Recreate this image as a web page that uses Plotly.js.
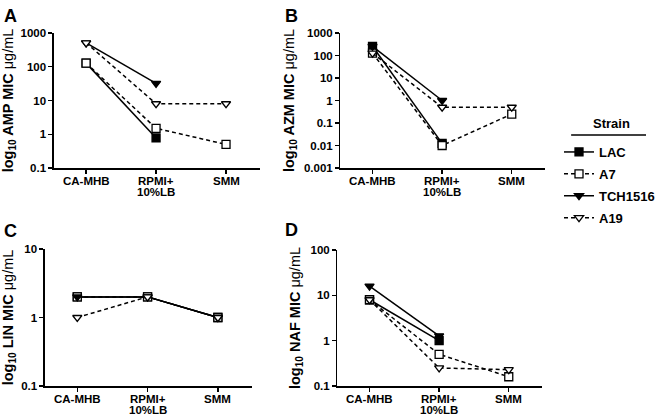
<!DOCTYPE html>
<html>
<head>
<meta charset="utf-8">
<script src="https://cdn.plot.ly/plotly-3.0.1.min.js"></script>
<style>html,body{margin:0;padding:0;background:#fff;}#chart{width:660px;height:415px;}</style>
</head>
<body>
<div id="chart"></div>
<script>
// Categories (media)
const media = ['CA-MHB', 'RPMI+<br>10%LB', 'SMM'];
const strains = ['LAC', 'A7', 'TCH1516', 'A19'];

// Panel A: AMP MIC (µg/mL)
const ampLAC = [128, 0.78, null];
const ampA7 = [128, 1.5, 0.5];
const ampTCH1516 = [512, 32, null];
const ampA19 = [512, 8, 8];

// Panel B: AZM MIC (µg/mL)
const azmLAC = [256, 0.0125, null];
const azmA7 = [128, 0.01, 0.25];
const azmTCH1516 = [256, 1, null];
const azmA19 = [128, 0.5, 0.5];

// Panel C: LIN MIC (µg/mL)
const linLAC = [2, 2, 1];
const linA7 = [2, 2, 1];
const linTCH1516 = [2, 2, 1];
const linA19 = [1, 2, 1];

// Panel D: NAF MIC (µg/mL)
const nafLAC = [8, 1, null];
const nafA7 = [8, 0.5, 0.16];
const nafTCH1516 = [16, 1.28, null];
const nafA19 = [8, 0.25, 0.23];

// Tick labels
const ticksA = [0.1, 1, 10, 100, 1000];
const ticksB = [0.001, 0.01, 0.1, 1, 10, 100, 1000];
const ticksC = [0.1, 1, 10];
const ticksD = [0.1, 1, 10, 100];

const styles = {
  LAC: {dash: 'solid', symbol: 'square', fill: '#000'},
  A7: {dash: '4px,3px', symbol: 'square', fill: '#fff'},
  TCH1516: {dash: 'solid', symbol: 'triangle-down', fill: '#000'},
  A19: {dash: '4px,3px', symbol: 'triangle-down', fill: '#fff'}
};

const font = {family: 'Liberation Sans, Arial, sans-serif', color: '#000'};

const panels = [
  {ax: '', data: {LAC: ampLAC, A7: ampA7, TCH1516: ampTCH1516, A19: ampA19}, legend: true,
   xd: [54, 260], yd: [33, 168], ticks: ticksA, drug: 'AMP', letter: 'A', lx: 2, ly: 4},
  {ax: '2', data: {LAC: azmLAC, A7: azmA7, TCH1516: azmTCH1516, A19: azmA19}, legend: false,
   xd: [341, 546], yd: [33, 168], ticks: ticksB, drug: 'AZM', letter: 'B', lx: 283, ly: 4},
  {ax: '3', data: {LAC: linLAC, A7: linA7, TCH1516: linTCH1516, A19: linA19}, legend: false,
   xd: [45, 252], yd: [249, 386], ticks: ticksC, drug: 'LIN', letter: 'C', lx: 2, ly: 219},
  {ax: '4', data: {LAC: nafLAC, A7: nafA7, TCH1516: nafTCH1516, A19: nafA19}, legend: false,
   xd: [338, 543], yd: [250, 386], ticks: ticksD, drug: 'NAF', letter: 'D', lx: 283, ly: 218}
];

const traces = [];
const annotations = [];
const layout = {
  width: 660, height: 415,
  margin: {l: 0, r: 0, t: 0, b: 0},
  paper_bgcolor: '#fff', plot_bgcolor: '#fff',
  font: font,
  showlegend: true,
  legend: {
    x: 560/660, y: 1 - 137/415, xanchor: 'left', yanchor: 'top',
    font: Object.assign({size: 13, weight: 'bold'}, font),
    tracegroupgap: 2, itemwidth: 30, bgcolor: 'rgba(0,0,0,0)'
  },
  shapes: [
    {type: 'line', xref: 'paper', yref: 'paper', x0: 572/660, x1: 647/660, y0: 1 - 135/415, y1: 1 - 135/415, line: {color: '#000', width: 1.5}}
  ]
};

panels.forEach(p => {
  strains.forEach(s => {
    const st = styles[s];
    traces.push({
      type: 'scatter', mode: 'lines+markers',
      x: media.map((m, i) => i), y: p.data[s],
      xaxis: 'x' + p.ax, yaxis: 'y' + p.ax,
      name: s, legendgroup: s, showlegend: p.legend,
      connectgaps: false,
      line: {color: '#000', width: 1.5, dash: st.dash},
      marker: {symbol: st.symbol, size: 8, color: st.fill, line: {color: '#000', width: 1.3}},
      hoverinfo: 'skip'
    });
  });
  const lo = Math.log10(p.ticks[0]), hi = Math.log10(p.ticks[p.ticks.length - 1]);
  layout['xaxis' + p.ax] = {
    domain: [p.xd[0]/660, p.xd[1]/660], anchor: 'y' + p.ax, range: [-0.46, 2.48],
    tickvals: media.map((m, i) => i), showticklabels: false,
    showline: true, linecolor: '#000', linewidth: 1.5, ticks: 'outside', ticklen: 4, tickwidth: 1.3, tickcolor: '#000',
    showgrid: false, zeroline: false, fixedrange: true
  };
  layout['yaxis' + p.ax] = {
    domain: [1 - p.yd[1]/415, 1 - p.yd[0]/415], anchor: 'x' + p.ax, type: 'log', range: [lo, hi],
    tickvals: p.ticks, ticktext: p.ticks.map(v => '<b>' + String(v) + '</b>'),
    showline: true, linecolor: '#000', linewidth: 1.5, ticks: 'outside', ticklen: 4, tickwidth: 1.3, tickcolor: '#000',
    showgrid: false, zeroline: false, tickfont: Object.assign({size: 11.5}, font), fixedrange: true,
    title: {text: '<b>log<sub>10</sub> ' + p.drug + ' MIC </b>μg/mL', font: Object.assign({size: 14.5}, font), standoff: 6}
  };
  // category labels, one line at a time (tight line spacing as in the reference)
  media.forEach((m, i) => {
    m.split('<br>').forEach((line, k) => {
      annotations.push({
        text: '<b>' + line + '</b>', xref: 'x' + p.ax, yref: 'paper',
        x: i, y: 1 - p.yd[1]/415, xanchor: 'center', yanchor: 'middle',
        yshift: -(12.5 + 11 * k), showarrow: false,
        font: Object.assign({size: 11.5}, font)
      });
    });
  });
  annotations.push({
    text: '<b>' + p.letter + '</b>', x: p.lx/660, y: 1 - p.ly/415, xref: 'paper', yref: 'paper',
    xanchor: 'left', yanchor: 'top', showarrow: false, font: Object.assign({size: 18}, font)
  });
});

annotations.push({text: '<b>Strain</b>', x: 612/660, y: 1 - 133/415, xref: 'paper', yref: 'paper',
  xanchor: 'center', yanchor: 'bottom', showarrow: false, font: Object.assign({size: 13}, font)});
layout.annotations = annotations;

Plotly.newPlot('chart', traces, layout, {displayModeBar: false, staticPlot: true});
</script>
</body>
</html>
